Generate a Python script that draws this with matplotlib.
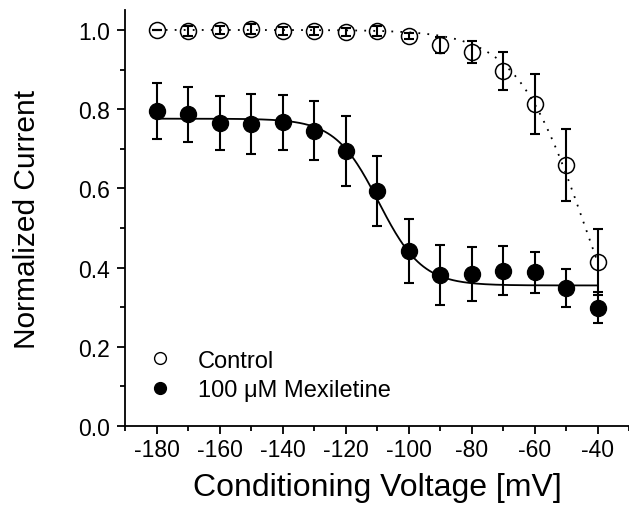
import matplotlib
matplotlib.use("Agg")
import matplotlib.pyplot as plt
import numpy as np
from matplotlib.lines import Line2D
from matplotlib.ticker import MultipleLocator

plt.rcParams.update({"font.family": "Liberation Sans", "font.size": 12,
                     "axes.unicode_minus": False})

voltage = [-180, -170, -160, -150, -140, -130, -120, -110, -100, -90, -80, -70, -60, -50, -40]

control = [1.000, 0.997, 1.000, 1.002, 0.997, 0.997, 0.994, 0.997, 0.985, 0.962, 0.944, 0.897, 0.813, 0.659, 0.415]
control_err = [0.0, 0.012, 0.010, 0.012, 0.010, 0.010, 0.010, 0.012, 0.008, 0.020, 0.027, 0.048, 0.075, 0.090, 0.083]

mexiletine = [0.795, 0.787, 0.765, 0.763, 0.767, 0.746, 0.695, 0.594, 0.442, 0.381, 0.383, 0.392, 0.388, 0.348, 0.299]
mexiletine_err = [0.070, 0.070, 0.068, 0.075, 0.070, 0.074, 0.088, 0.089, 0.080, 0.075, 0.068, 0.062, 0.052, 0.048, 0.040]

# Boltzmann fit parameters (top, bottom, V1/2, slope)
control_fit = (1.0, 0.0, -43.8, 11.0)
mexiletine_fit = (0.776, 0.355, -109.5, 6.9)


def boltzmann(v, top, bottom, vhalf, k):
    return bottom + (top - bottom) / (1 + np.exp((v - vhalf) / k))


fig = plt.figure(figsize=(6.29, 5.06), dpi=100)
ax = fig.add_axes([0.199, 0.156, 0.801, 0.822])

vv = np.linspace(min(voltage), max(voltage), 300)
ax.plot(vv, boltzmann(vv, *control_fit), color="black", lw=1.3,
        linestyle=(0, (1, 4)), zorder=5)
ax.plot(vv, boltzmann(vv, *mexiletine_fit), color="black", lw=1.3, zorder=2)

ax.errorbar(voltage, mexiletine, yerr=mexiletine_err, fmt="o", color="black",
            ms=11.5, mfc="black", mec="black", elinewidth=1.5, capsize=3.3,
            capthick=1.5, zorder=3)
ax.plot(voltage, control, "o", ms=11.5, mfc="white", mec="black", mew=1.1, zorder=3)
ax.errorbar(voltage, control, yerr=control_err, fmt="none", ecolor="black",
            elinewidth=1.5, capsize=3.3, capthick=1.5, zorder=4)

ax.set_xlim(-190, -30)
ax.set_ylim(0, 1.05)
ax.xaxis.set_major_locator(MultipleLocator(20))
ax.xaxis.set_minor_locator(MultipleLocator(10))
ax.yaxis.set_major_locator(MultipleLocator(0.2))
ax.yaxis.set_minor_locator(MultipleLocator(0.1))
ax.yaxis.set_major_formatter(plt.FuncFormatter(lambda y, _: f"{y:.1f}"))
ax.spines["top"].set_visible(False)
ax.spines["right"].set_visible(False)
for s in ("left", "bottom"):
    ax.spines[s].set_linewidth(1.3)
ax.tick_params(which="major", length=5.8, width=1.3, labelsize=16.5)
ax.tick_params(which="minor", length=3.6, width=1.3)
ax.tick_params(axis="y", which="major", pad=5)
ax.tick_params(axis="x", which="major", pad=3)

ax.set_xlabel("Conditioning Voltage [mV]", fontsize=23, labelpad=8)
ax.set_ylabel("Normalized Current", fontsize=21.5, labelpad=27)

handles = [
    Line2D([], [], marker="o", ls="none", ms=8.5, mfc="white", mec="black", mew=1),
    Line2D([], [], marker="o", ls="none", ms=8.5, mfc="black", mec="black"),
]
ax.legend(handles, ["Control", "100 \u03bcM Mexiletine"], loc="lower left",
          bbox_to_anchor=(-0.02, 0.008), frameon=False, fontsize=17,
          handletextpad=0.6, labelspacing=0.33)

fig.savefig("out.png", dpi=100)
